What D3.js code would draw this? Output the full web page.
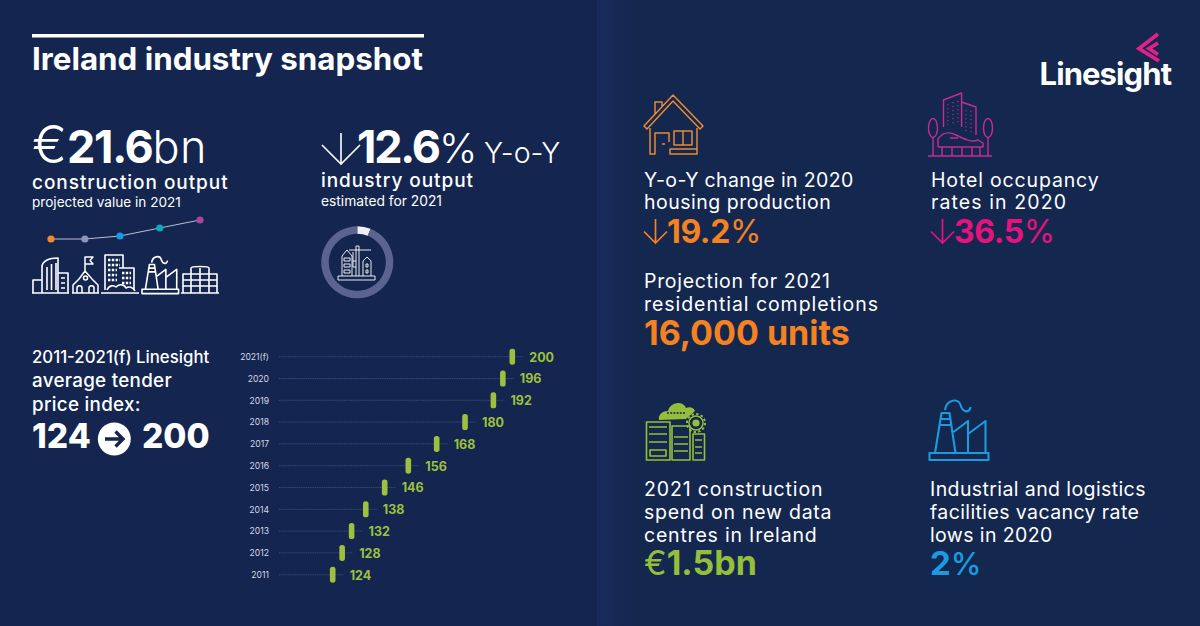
<!DOCTYPE html>
<html>
<head>
<meta charset="utf-8">
<script src="https://cdn.jsdelivr.net/npm/d3@7"></script>
<style>
  html, body { margin: 0; padding: 0; background: #14264f; overflow: hidden; }
  svg { display: block; }
  text { font-family: Inter, "Noto Sans", sans-serif; }
  .axis-anos .domain { display: none; }
  .axis-anos line { display: none; }
</style>
</head>
<body>
<div id="grafico"></div>
<script>
// tender price index
const anos = ["2021(f)", "2020", "2019", "2018", "2017", "2016", "2015", "2014", "2013", "2012", "2011"];
const indice = [200, 196, 192, 180, 168, 156, 146, 138, 132, 128, 124];

// small line above the building icons (no units in the picture, read by eye)
const tendenciaX = [0, 0.91, 1.85, 2.92, 4];
const tendenciaY = [0, 0, 3, 11, 19];
const tendenciaCores = ["#f08a2c", "#8d93bd", "#149be0", "#0fa9b8", "#a8489c"];

// ring around the crane icon, share
const anel = [6, 94];

const AZUL = "#14264f", BRANCO = "#ffffff", LARANJA = "#f5821f", ROSA = "#e6127f", VERDE = "#95bf3a", CIANO = "#1a9be0";

const svg = d3.select("#grafico").append("svg").attr("width", 1200).attr("height", 626);

// background, right panel is a touch lighter
const defs = svg.append("defs");
const grad = defs.append("linearGradient").attr("id", "painel");
grad.append("stop").attr("offset", "0%").attr("stop-color", "#172b5c");
grad.append("stop").attr("offset", "100%").attr("stop-color", "#14274f");
svg.append("rect").attr("width", 1200).attr("height", 626).attr("fill", AZUL);
svg.append("rect").attr("x", 597).attr("width", 603).attr("height", 626).attr("fill", "#14274f");
svg.append("rect").attr("x", 597).attr("width", 40).attr("height", 626).attr("fill", "url(#painel)");

// partes: [text, weight, letter spacing, size]
function texto(x, y, partes, size, cor, spacing) {
    const t = svg.append("text").attr("x", x).attr("y", y).attr("font-size", size).attr("fill", cor || BRANCO);
    if (spacing) t.attr("letter-spacing", spacing);
    partes.forEach(p => {
        const s = t.append("tspan").text(p[0]).attr("font-weight", p[1]);
        if (p[2] !== undefined) s.attr("letter-spacing", p[2]);
        if (p[3] !== undefined) s.attr("font-size", p[3]);
    });
    return t;
}

function setaBaixo(x, y, w, h, cor, sw) {
    svg.append("path")
        .attr("d", `M${x + w / 2},${y} V${y + h} M${x},${y + h - w / 2} L${x + w / 2},${y + h} L${x + w},${y + h - w / 2}`)
        .attr("fill", "none").attr("stroke", cor).attr("stroke-width", sw);
}

function icone(x, y, k, cor, sw) {
    return svg.append("g").attr("transform", `translate(${x},${y}) scale(${k})`)
        .attr("fill", "none").attr("stroke", cor).attr("stroke-width", sw / k).attr("stroke-linejoin", "round");
}

function fabrica(g) {
    g.append("rect").attr("x", 0).attr("y", 52).attr("width", 59).attr("height", 7);
    g.append("path").attr("d", "M5.5,52 L12,12 H20 L26,52 M24,31 L38.5,20 V52 M38.5,33 L56,20 V52 M10.5,18 H21 M9.5,24 H22");
    g.append("path").attr("d", "M15.5,9 C17,-2 29,-3 31,4 C33,11 40,13 41,6");
}

// ---- left: header
svg.append("rect").attr("x", 32).attr("y", 34).attr("width", 392).attr("height", 3.5).attr("fill", BRANCO);
texto(32, 70, [["Ireland industry snapshot", 700]], 31.3);

texto(32, 163, [["€", 300, 0, 52], ["21.6", 700, -1.3], ["bn", 300, 0.5]], 45);
texto(32, 189, [["construction output", 500]], 19, BRANCO, 0.95);
texto(32, 207, [["projected value in 2021", 400]], 13.6);

setaBaixo(322, 133, 38, 31, BRANCO, 1.6);
texto(357, 163, [["12.6", 700, -2.2], ["%", 300, 0, 41]], 45);
texto(484, 163, [["Y-o-Y", 300]], 28.5);
texto(321, 187, [["industry output", 500]], 19, BRANCO, 0.95);
texto(321, 206, [["estimated for 2021", 400]], 13.8);

// ---- small trend line
const tx = d3.scaleLinear().domain([0, 4]).range([51, 200]);
const ty = d3.scaleLinear().domain([0, 19]).range([239, 220]);
const pontos = tendenciaX.map((d, i) => ({ x: d, y: tendenciaY[i], cor: tendenciaCores[i] }));
svg.append("path").datum(pontos)
    .attr("d", d3.line().x(d => tx(d.x)).y(d => ty(d.y)))
    .attr("fill", "none").attr("stroke", "#b9bdd4").attr("stroke-width", 1);
svg.selectAll(".ponto").data(pontos).join("circle")
    .attr("class", "ponto")
    .attr("cx", d => tx(d.x)).attr("cy", d => ty(d.y)).attr("r", 3.6)
    .attr("fill", d => d.cor);

// ---- white building icons
const predio = icone(32, 257, 1, BRANCO, 1.6);
predio.append("path").attr("d", "M0,36 H37 M1,36 V23 H10 M10,36 V10 C10,4 17,1 26,1 V36 M15,33 V10 M19.5,33 V7 M24,33 V6 M26,16 H36 V36 M29,21 H33 M29,26 H33 M29,31 H33");
const escola = icone(72, 257, 1, BRANCO, 1.5);
escola.append("path").attr("d", "M0,36 H27 M1,36 V28 L7,22 L13,14 L20,22 L26,28 V36 M13,14 V0 H21 L18,3.5 L21,7 H13 M5,36 V31 C5,28 10,28 10,31 V36 M17,36 V31 C17,28 22,28 22,31 V36");
escola.append("circle").attr("cx", 13.5).attr("cy", 21).attr("r", 2);
const bloco = icone(101, 255, 1, BRANCO, 1.6);
bloco.append("path").attr("d", "M0,38 H38 M4,35 V0 H22 V10 M22,10 V13 M18,13 H33 V35");
bloco.append("path").attr("d", "M7,5 H19 M7,10 H19 M7,15 H16 M7,20 H16 M7,25 H16 M21,18 H30 M21,23 H30 M21,28 H30")
    .attr("stroke-width", 2.6).attr("stroke-dasharray", "2.4 1.4");
bloco.append("path").attr("d", "M6,35 C8,30 13,30 15,32 C19,28 24,30 25,33 C28,31 32,32 34,36");
fabrica(icone(142, 257, 0.62, BRANCO, 1.6));
const caixas = icone(181, 266, 1, BRANCO, 1.6);
caixas.append("path").attr("d", "M0,27 H38 M2,27 V8 H10 M10,27 V2 C10,0 28,0 28,2 V27 M28,8 H36 V27 M10,8 H28 M10,14 H28 M10,20 H28 M19,2 V27 M2,14 H10 M2,20 H10 M28,14 H36 M28,20 H36");

// ---- ring with crane
const arco = d3.arc().innerRadius(28.5).outerRadius(36);
const pie = d3.pie().sort(null);
svg.append("g").attr("transform", "translate(357.3,262.3)")
    .selectAll("path").data(pie(anel)).join("path")
    .attr("d", arco).attr("fill", (d, i) => i === 0 ? "#f0f0f4" : "#5b648f");
const guindaste = icone(338, 244, 1, BRANCO, 0.9);
guindaste.append("path").attr("d", "M0,32 H37 V36 H0 Z M4,32 V12 L9,6 L14,12 V32 M6,14 H12 V17 H6 Z M6,20 H12 V23 H6 Z M6,26 H12 V29 H6 Z M18,32 V2 H21 V32 M11,6 H33 M15,8 V17 H18 M15,17 V23 H18 M25,32 V17 L29,13 L33,17 V32 M28,20 H30 V23 H28 Z M28,26 H30 V29 H28 Z");

// ---- tender price chart
texto(32, 363, [["2011-2021(f) Linesight", 500]], 16.8);
texto(32, 387, [["average tender", 500]], 18.8, BRANCO, 0.3);
texto(32, 411, [["price index:", 500]], 18.8, BRANCO, 0.3);
texto(32, 448, [["124", 800]], 33.5);
svg.append("circle").attr("cx", 114.3).attr("cy", 439).attr("r", 16.5).attr("fill", BRANCO);
svg.append("path").attr("d", "M105,439 H122 M115.5,431.5 L123,439 L115.5,446.5")
    .attr("fill", "none").attr("stroke", AZUL).attr("stroke-width", 3.4);
texto(142, 448, [["200", 800]], 33.5);

const y = d3.scalePoint().domain(anos).range([356.7, 574.7]);
const x = d3.scaleLinear().domain([124, 200]).range([332.7, 512.3]);
const barras = anos.map((a, i) => ({ ano: a, valor: indice[i] }));

svg.append("g").attr("class", "axis-anos")
    .attr("transform", "translate(273,0)")
    .call(d3.axisLeft(y).tickSize(0).tickPadding(4))
    .selectAll("text")
    .attr("font-size", 8.6).attr("fill", "#d5d8e6")
    .style("font-family", "Inter");

svg.selectAll(".guia").data(barras).join("line")
    .attr("class", "guia")
    .attr("x1", 279).attr("x2", d => x(d.valor) + 11)
    .attr("y1", d => y(d.ano)).attr("y2", d => y(d.ano))
    .attr("stroke", "#3d5285").attr("stroke-width", 0.8).attr("stroke-dasharray", "1.2 0.6");

svg.selectAll(".marca").data(barras).join("rect")
    .attr("class", "marca")
    .attr("x", d => x(d.valor) - 2.8).attr("y", d => y(d.ano) - 8)
    .attr("width", 5.6).attr("height", 16).attr("rx", 2.6)
    .attr("fill", "#9cc13c");

svg.selectAll(".valor").data(barras).join("text")
    .attr("class", "valor")
    .attr("x", d => x(d.valor) + 17).attr("y", d => y(d.ano) + 4.8)
    .attr("font-size", 12.5).attr("font-weight", 700).attr("fill", "#9cc13c")
    .text(d => d.valor);

// ---- right: logo
texto(1039.5, 85, [["Linesight", 700]], 31, BRANCO, -0.9);
svg.append("path").attr("d", "M1158,34 L1139,48.5 L1159,61 M1158,43 L1149,48.5 L1158,54.5")
    .attr("fill", "none").attr("stroke", "#e0218a").attr("stroke-width", 3.8);

// ---- house
const casa = icone(643, 95, 1, "#e88a35", 1.5);
casa.append("path").attr("d", "M1,31 L30,0 L60,31 L57,34 L30,6 L4,34 Z M12,20 V7 H19 V13 M7,33 V59 H12 V38 H26 V47 M31,36 H49 V50 H31 Z M40,36 V50 M54,33 V59 H27 V54 H54 M19,49 H22");

// ---- hotel
const hotel = icone(928, 93, 1, "#c62c93", 1.4);
hotel.append("path").attr("d", "M15.5,34 V7 L33.6,0 V34 M33.6,9 L48,14 V42 M0,63 H64 M5,44 V63 M60,44 V63 M10,54 V46 C14,40 20,38 28,42 C36,46 44,50 50,47 L55,50 V54 H10 M14,63 V54 M24,63 V54 M34,63 V54 M44,63 V54 M52,63 V54 M22,45 H30");
hotel.append("ellipse").attr("cx", 5).attr("cy", 35).attr("rx", 4.5).attr("ry", 9.5);
hotel.append("ellipse").attr("cx", 60).attr("cy", 35).attr("rx", 4.5).attr("ry", 9.5);
hotel.append("path").attr("d", "M20,11 V32 M25,9 V32 M30,8 V32 M38,17 V38 M43,18 V40")
    .attr("stroke-width", 1.1).attr("stroke-dasharray", "1.2 2.8");

// ---- server
const servidor = icone(646, 401, 1, VERDE, 1.6);
servidor.append("rect").attr("x", 0.5).attr("y", 21).attr("width", 23.5).attr("height", 38);
servidor.append("rect").attr("x", 26).attr("y", 25).attr("width", 18).attr("height", 34);
servidor.append("rect").attr("x", 47).attr("y", 33).attr("width", 11.5).attr("height", 26);
servidor.append("path").attr("d", "M3,26 H21 M3,33 H21 M3,41 H21 M28,36 H42 M28,43 H42 M28,50 H42 M49,39 H56 M49,46 H56 M49,52 H56");
servidor.append("rect").attr("x", 4).attr("y", 49).attr("width", 16).attr("height", 6);
svg.append("path").attr("d", "M659,420 C658,414 663,411 668,411 C670,402 683,400 686,408 C690,406 694,408 695,411 L686,419 Z")
    .attr("fill", VERDE);
svg.append("path").attr("d", "M667,413 H686").attr("stroke", AZUL).attr("stroke-width", 1.6).attr("stroke-dasharray", "2 1.2");
svg.append("circle").attr("cx", 696).attr("cy", 423).attr("r", 7).attr("fill", AZUL)
    .attr("stroke", VERDE).attr("stroke-width", 1.5);
svg.append("circle").attr("cx", 696).attr("cy", 423).attr("r", 9).attr("fill", "none")
    .attr("stroke", VERDE).attr("stroke-width", 2).attr("stroke-dasharray", "2.4 2.3");
svg.append("circle").attr("cx", 696).attr("cy", 423).attr("r", 3.6).attr("fill", VERDE);

// ---- factory
fabrica(icone(929.5, 401, 1, CIANO, 2.1));

// ---- right: texts
texto(644, 187, [["Y-o-Y change in 2020", 400]], 19.5, BRANCO, 0.35);
texto(644, 209, [["housing production", 400]], 19.5, BRANCO, 0.5);
setaBaixo(644, 219, 23, 24, LARANJA, 1.7);
texto(667, 243, [["19.2", 700, -0.4], ["%", 400]], 32, LARANJA);

texto(931, 187, [["Hotel occupancy", 400]], 19.5, BRANCO, 0.85);
texto(931, 209, [["rates in 2020", 400]], 19.5, BRANCO, 1.1);
setaBaixo(931, 219, 23, 24, ROSA, 1.7);
texto(954, 243, [["36.5", 700, -0.4], ["%", 400]], 32, ROSA);

texto(644, 288, [["Projection for 2021", 400]], 19.5, BRANCO, 0.7);
texto(644, 311, [["residential completions", 400]], 19.5, BRANCO, 0.95);
texto(644, 345, [["16,000 units", 700]], 34, LARANJA);

texto(644, 496, [["2021 construction", 400]], 19.5, BRANCO, 0.85);
texto(644, 519, [["spend on new data", 400]], 19.5, BRANCO, 0.75);
texto(644, 542, [["centres in Ireland", 400]], 19.5, BRANCO, 0.8);
texto(644, 575, [["€", 400], ["1.5bn", 700]], 34, VERDE);

texto(930, 496, [["Industrial and logistics", 400]], 19.5, BRANCO, 0.4);
texto(930, 519, [["facilities vacancy rate", 400]], 19.5, BRANCO, 0.4);
texto(930, 542, [["lows in 2020", 400]], 19.5, BRANCO, 0.4);
texto(930, 575, [["2", 700], ["%", 500, 0, 31]], 33, CIANO);
</script>
</body>
</html>
